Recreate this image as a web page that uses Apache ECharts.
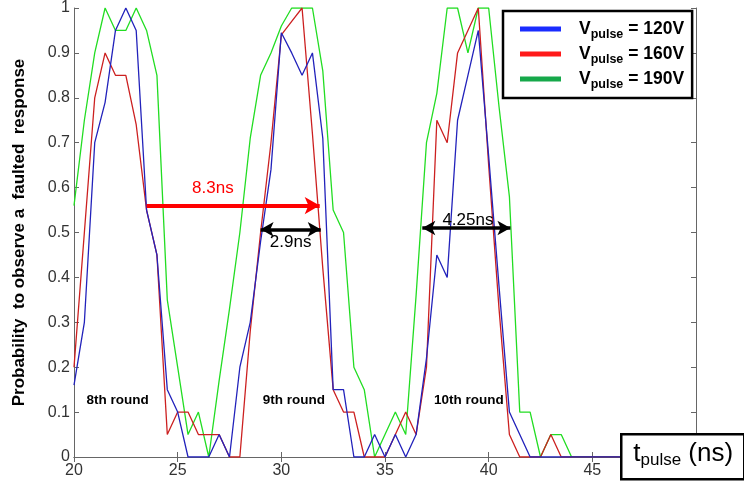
<!DOCTYPE html>
<html><head><meta charset="utf-8">
<script src="https://cdn.jsdelivr.net/npm/echarts@6/dist/echarts.min.js"></script>
<style>html,body{margin:0;padding:0;background:#fff}#c{width:744px;height:484px}</style>
</head><body><div id="c"></div>
<script>
// pulse instants (ns)
const tValues = [20,20.5,21,21.5,22,22.5,23,23.5,24,24.5,25,25.5,26,26.5,27,27.5,28,28.5,29,29.5,
  30,30.5,31,31.5,32,32.5,33,33.5,34,34.5,35,35.5,36,36.5,37,37.5,38,38.5,39,39.5,
  40,40.5,41,41.5,42,42.5,43,43.5,44,44.5,45,45.5,46,46.5,47,47.5,48,48.5,49,49.5,50];
// probability of faulted response
const v120 = [0.16,0.30,0.70,0.79,0.95,1.00,0.95,0.55,0.45,0.15,0.10,0,0,0,0.05,0,0.20,0.30,0.48,0.64,
  0.945,0.90,0.85,0.90,0.71,0.15,0.15,0,0,0.05,0,0.05,0,0.05,0.22,0.45,0.40,0.75,0.85,0.95,
  0.67,0.38,0.10,0.05,0,0,0,0,0,0,0,0,0,0,0,0,0,0,0,0,0];
const v160 = [0.20,0.50,0.80,0.90,0.85,0.85,0.74,0.55,0.45,0.05,0.10,0.10,0.05,0.05,0.05,0,0,0.28,0.50,0.70,
  0.94,0.97,1.00,0.72,0.42,0.15,0.10,0.10,0,0,0,0.05,0.10,0.05,0.20,0.75,0.70,0.90,0.95,1.00,
  0.65,0.33,0.05,0,0,0,0.05,0,0,0,0,0,0,0,0,0,0,0,0,0,0];
const v190 = [0.56,0.75,0.90,1.00,0.95,0.95,1.00,0.95,0.85,0.35,0.20,0.05,0.10,0,0.17,0.33,0.50,0.71,0.85,0.90,
  0.96,1.00,1.00,1.00,0.86,0.55,0.50,0.20,0.15,0,0.05,0.10,0.05,0.36,0.70,0.81,1.00,1.00,0.90,1.00,
  1.00,0.78,0.58,0.10,0.10,0,0.05,0.05,0,0,0,0,0,0,0,0,0,0,0,0,0];
const voltages = ['120V','160V','190V'];
const seriesNames = ['V120','V160','V190'];
const lineColors = ['#2222bb','#cc2020','#22dd22'];
const legendColors = ['#1a2cff','#ff1a1a','#16a84a'];
const xTickLabels = ['20','25','30','35','40','45',''];
// annotations (data coordinates)
const redArrow = [[23.5,0.56],[31.85,0.56]];
const blackArrows = [[[29.0,0.507],[31.9,0.507]],[[36.8,0.51],[41.05,0.51]]];
const widthNotes = [[26.7,0.598,'8.3ns'],[30.45,0.478,'2.9ns'],[39.0,0.527,'4.25ns']];
const widthNoteColors = ['#ff0000','#000','#000'];
const roundNotes = [[22.1,0.126,'8th round'],[30.6,0.126,'9th round'],[39.05,0.126,'10th round']];

const FONT = 'Liberation Sans, Arial, sans-serif';
const chart = echarts.init(document.getElementById('c'));
const pairs = arr => arr.map((v,i)=>[tValues[i], v]);
const dataSets = [v120, v160, v190];

const lineSeries = [2,1,0].map(i => ({
  name: seriesNames[i], type:'line', data: pairs(dataSets[i]),
  symbol:'none', xAxisIndex:0, yAxisIndex:0,
  lineStyle:{color:lineColors[i], width:1.3}, itemStyle:{color:lineColors[i]},
  silent:true, animation:false, z: 2
}));

const annoSeries = {
  type:'line', data:[], xAxisIndex:0, yAxisIndex:0, silent:true, animation:false, z:5,
  markLine:{
    silent:true, animation:false,
    label:{show:false},
    data:[
      [{coord:redArrow[0], symbol:'none', lineStyle:{color:'#ff0000', width:4, type:'solid'}},
       {coord:redArrow[1], symbol:'arrow', symbolSize:[13,15]}],
      ...blackArrows.map(a => [
        {coord:a[0], symbol:'arrow', symbolSize:[11,13], lineStyle:{color:'#000', width:3.5, type:'solid'}},
        {coord:a[1], symbol:'arrow', symbolSize:[11,13]}])
    ]
  }
};

const noteSeries = {
  type:'scatter', xAxisIndex:0, yAxisIndex:0, silent:true, animation:false, z:6,
  symbolSize:1, itemStyle:{color:'rgba(0,0,0,0)', opacity:1},
  data: widthNotes.map((n,i)=>({value:[n[0],n[1]], label:{color:widthNoteColors[i]}, note:n[2]}))
    .concat(roundNotes.map(n=>({value:[n[0],n[1]], label:{fontWeight:'bold', fontSize:13.5, color:'#000'}, note:n[2]}))),
  label:{show:true, position:'inside', fontFamily:FONT, fontSize:17, color:'#000', opacity:1,
    formatter: p => p.data.note}
};

const tickStyle = {show:true, inside:true, length:5, lineStyle:{color:'#666', width:1}};
const axLine = {show:true, lineStyle:{color:'#666', width:1}};

chart.setOption({
  animation:false,
  backgroundColor:'#fff',
  grid:{left:74, right:48, top:5, bottom:27},
  xAxis:[
    {type:'value', min:20, max:50, interval:5, axisLine:axLine, axisTick:tickStyle, splitLine:{show:false},
     axisLabel:{fontFamily:FONT, fontSize:16, color:'#333', margin:6,
       formatter: v => xTickLabels[Math.round((v-20)/5)]}},
    {type:'value', position:'top', min:20, max:50, interval:5, axisLine:axLine, axisTick:tickStyle,
     splitLine:{show:false}, axisLabel:{show:false}}
  ],
  yAxis:[
    {type:'value', min:0, max:1, interval:0.1, axisLine:axLine, axisTick:tickStyle, splitLine:{show:false},
     axisLabel:{fontFamily:FONT, fontSize:16, color:'#333', margin:4},
     name:'Probability  to observe a  faulted  response', nameLocation:'middle', nameGap:46,
     nameTextStyle:{fontFamily:FONT, fontSize:17, fontWeight:'bold', color:'#000'}},
    {type:'value', position:'right', min:0, max:1, interval:0.1, axisLine:axLine, axisTick:tickStyle,
     splitLine:{show:false}, axisLabel:{show:false}}
  ],
  legend:{
    orient:'vertical', left:503, top:11, padding:[9,8,7,17], itemGap:4,
    itemWidth:41, itemHeight:5, icon:'rect',
    borderColor:'#000', borderWidth:2.5, backgroundColor:'#fff',
    selectedMode:false,
    data: seriesNames.map((n,i)=>({name:n, itemStyle:{color:legendColors[i]}})),
    formatter: name => '{g|V}{s|pulse}{v| = ' + voltages[seriesNames.indexOf(name)] + '}',
    textStyle:{
      rich:{
        g:{fontFamily:FONT, fontSize:17.5, fontWeight:'bold', color:'#000', padding:[0,0,0,13]},
        v:{fontFamily:FONT, fontSize:17.5, fontWeight:'bold', color:'#000'},
        s:{fontFamily:FONT, fontSize:12.5, fontWeight:'bold', color:'#000', padding:[11,0,0,0]}
      }
    }
  },
  graphic:[{
    type:'group', left:620, top:433, zlevel:1,
    children:[
      {type:'rect', z:100, zlevel:1, shape:{x:0,y:0,width:123,height:45}, style:{fill:'#fff', stroke:'#000', lineWidth:2.5}},
      {type:'text', z:101, zlevel:1, x:12, y:4, style:{
        text:'{a|t}{b|pulse}{a| (ns)}', fill:'#000',
        rich:{a:{fontFamily:FONT, fontSize:26, fill:'#000'}, b:{fontFamily:FONT, fontSize:17, fill:'#000', padding:[14,0,0,0]}}
      }}
    ]
  }],
  series:[...lineSeries, annoSeries, noteSeries]
});
</script></body></html>
